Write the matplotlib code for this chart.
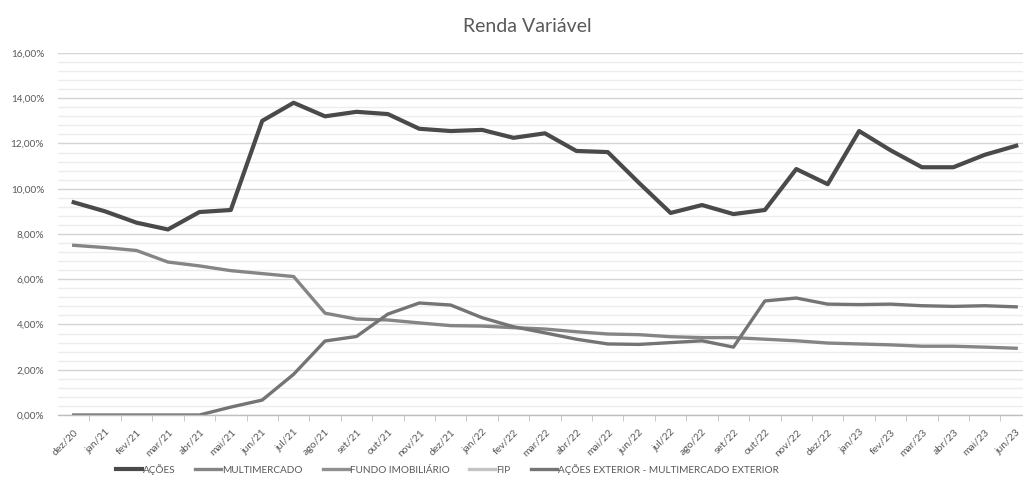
import numpy as np
import matplotlib
matplotlib.use("Agg")
import matplotlib.pyplot as plt
from matplotlib.ticker import MultipleLocator, FuncFormatter, FixedLocator

plt.rcParams['font.family'] = ['Lato', 'DejaVu Sans']

meses = ['dez/20', 'jan/21', 'fev/21', 'mar/21', 'abr/21', 'mai/21', 'jun/21', 'jul/21',
         'ago/21', 'set/21', 'out/21', 'nov/21', 'dez/21', 'jan/22', 'fev/22', 'mar/22',
         'abr/22', 'mai/22', 'jun/22', 'jul/22', 'ago/22', 'set/22', 'out/22', 'nov/22',
         'dez/22', 'jan/23', 'fev/23', 'mar/23', 'abr/23', 'mai/23', 'jun/23']

acoes = [9.40, 9.00, 8.50, 8.20, 8.97, 9.06, 13.00, 13.80, 13.20, 13.40, 13.30, 12.65,
         12.55, 12.60, 12.25, 12.45, 11.67, 11.62, 10.25, 8.93, 9.28, 8.88, 9.06, 10.87,
         10.20, 12.55, 11.70, 10.95, 10.95, 11.50, 11.90]

multimercado = [7.50, 7.40, 7.27, 6.76, 6.59, 6.38, 6.25, 6.12, 4.50, 4.24, 4.20, 4.07,
                3.95, 3.93, 3.86, 3.80, 3.68, 3.58, 3.55, 3.46, 3.42, 3.42, 3.35, 3.28,
                3.18, 3.14, 3.10, 3.04, 3.04, 3.00, 2.95]

acoes_exterior = [0.0, 0.0, 0.0, 0.0, 0.0, 0.35, 0.66, 1.80, 3.27, 3.47, 4.46, 4.95,
                  4.86, 4.30, 3.90, 3.63, 3.35, 3.14, 3.12, 3.20, 3.28, 3.00, 5.04, 5.17,
                  4.90, 4.88, 4.90, 4.83, 4.80, 4.83, 4.78]

# fundo imobiliario e FIP sem valores no periodo
fundo_imob = [np.nan] * len(meses)
fip = [np.nan] * len(meses)

x = np.arange(len(meses))

fig = plt.figure(figsize=(10.23, 4.79), dpi=100)
ax = fig.add_axes([0.0567, 0.1336, 0.952, 0.7558])

ax.plot(x, acoes, color='#4a4a4a', lw=3.0, label='AÇÕES', solid_joinstyle='round')
ax.plot(x, multimercado, color='#858585', lw=2.4, label='MULTIMERCADO', solid_joinstyle='round')
ax.plot(x, fundo_imob, color='#8f8f8f', lw=2.4, label='FUNDO IMOBILIÁRIO')
ax.plot(x, fip, color='#c4c4c4', lw=2.4, label='FIP')
ax.plot(x, acoes_exterior, color='#747474', lw=2.4,
        label='AÇÕES EXTERIOR - MULTIMERCADO EXTERIOR', solid_joinstyle='round')

ax.set_xlim(-0.5, len(meses) - 0.5)
ax.set_ylim(0, 16)
ax.yaxis.set_major_locator(MultipleLocator(2))
ax.yaxis.set_minor_locator(MultipleLocator(0.4))
ax.yaxis.set_major_formatter(FuncFormatter(lambda v, p: f"{v:.2f}%".replace('.', ',')))
ax.grid(which='major', axis='y', color='#d4d4d4', lw=1.0)
ax.grid(which='minor', axis='y', color='#ededed', lw=1.0)
ax.set_axisbelow(True)
ax.tick_params(axis='y', which='both', length=0, labelsize=7.2, labelcolor='#595959', pad=10)

ax.set_xticks(x)
ax.set_xticklabels(meses, rotation=45, ha='right', rotation_mode='anchor',
                   fontsize=7.5, color='#595959')
ax.xaxis.set_minor_locator(FixedLocator(x[:-1] + 0.5))
ax.tick_params(axis='x', which='major', length=0, pad=9)
ax.tick_params(axis='x', which='minor', length=4, color='#bfbfbf')

for s in ['top', 'right', 'left']:
    ax.spines[s].set_visible(False)
ax.spines['bottom'].set_color('#bfbfbf')
ax.spines['bottom'].set_linewidth(1.0)

fig.text(0.515, 0.945, 'Renda Variável', ha='center', va='center', fontsize=14, color='#595959')

fig.legend(loc='center', bbox_to_anchor=(0.437, 0.02), ncol=5, frameon=False,
           fontsize=7.2, labelcolor='#595959', handlelength=2.6, handletextpad=0.1,
           columnspacing=2.0)

fig.savefig('out.png', dpi=100, facecolor='white')
